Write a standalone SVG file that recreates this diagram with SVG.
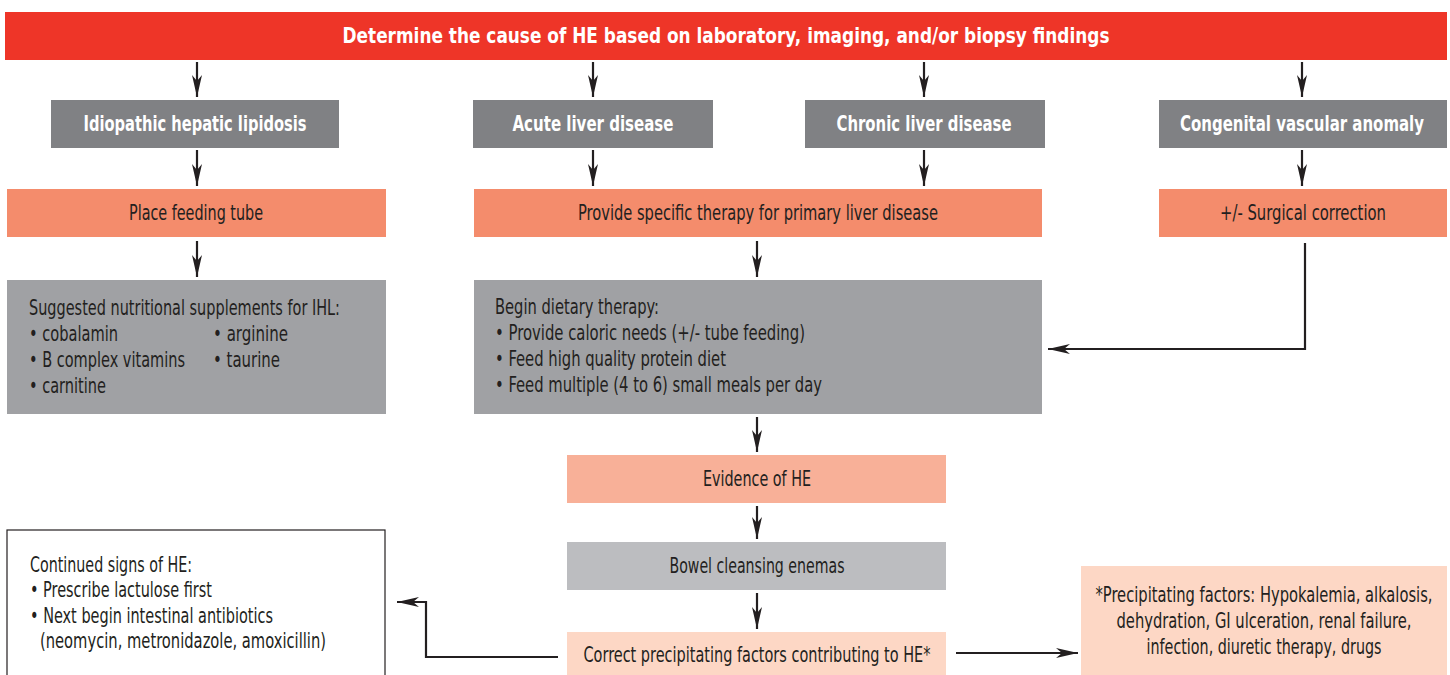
<svg xmlns="http://www.w3.org/2000/svg" width="1450" height="675" viewBox="0 0 1450 675">
<defs>
<style>
text{font-family:"Liberation Sans Narrow","DejaVu Sans Condensed","Liberation Sans",Arial,sans-serif;font-size:22px;fill:#231F20}
.b{font-weight:bold;fill:#fff}
.c{text-anchor:middle}
.red{fill:#EE3528}
.dg{fill:#808184}
.sal{fill:#F48C6C}
.lg{fill:#A0A1A4}
.ev{fill:#F8B098}
.bw{fill:#BCBDC0}
.pk{fill:#FDD7C5}
.wb{fill:#fff;stroke:#231F20;stroke-width:1.2}
.con path{fill:none;stroke:#231F20;stroke-width:2.2;marker-end:url(#ah)}
</style>
<marker id="ah" markerUnits="userSpaceOnUse" markerWidth="24" markerHeight="12" viewBox="-23 -6 24 12" refX="0" refY="0" orient="auto">
<path d="M0,0 L-22,-5 L-16,0 L-22,5 Z" fill="#231F20"/>
</marker>
</defs>
<rect width="1450" height="675" fill="#fff"/>

<g id="n-top"><rect class="red" x="5" y="12" width="1442" height="48"/>
<text class="b c" x="726" y="43" font-size="23" textLength="767" lengthAdjust="spacingAndGlyphs">Determine the cause of HE based on laboratory, imaging, and/or biopsy findings</text></g>

<g id="n-ihl"><rect class="dg" x="51" y="100" width="288" height="48"/>
<text class="b c" x="195" y="131" textLength="223" lengthAdjust="spacingAndGlyphs">Idiopathic hepatic lipidosis</text></g>
<g id="n-acute"><rect class="dg" x="473" y="100" width="240" height="48"/>
<text class="b c" x="593" y="131" textLength="161" lengthAdjust="spacingAndGlyphs">Acute liver disease</text></g>
<g id="n-chronic"><rect class="dg" x="805" y="100" width="240" height="48"/>
<text class="b c" x="924" y="131" textLength="175" lengthAdjust="spacingAndGlyphs">Chronic liver disease</text></g>
<g id="n-cva"><rect class="dg" x="1159" y="100" width="288" height="48"/>
<text class="b c" x="1302" y="131" textLength="244" lengthAdjust="spacingAndGlyphs">Congenital vascular anomaly</text></g>

<g id="n-tube"><rect class="sal" x="7" y="189" width="379" height="48"/>
<text class="c" x="196" y="220" textLength="134" lengthAdjust="spacingAndGlyphs">Place feeding tube</text></g>
<g id="n-specific"><rect class="sal" x="474" y="189" width="568" height="48"/>
<text class="c" x="758" y="220" textLength="360" lengthAdjust="spacingAndGlyphs">Provide specific therapy for primary liver disease</text></g>
<g id="n-surg"><rect class="sal" x="1159" y="189" width="288" height="48"/>
<text class="c" x="1303" y="220" textLength="166" lengthAdjust="spacingAndGlyphs">+/- Surgical correction</text></g>

<g id="n-supp"><rect class="lg" x="7" y="280" width="379" height="134"/>
<text x="29" y="315" textLength="311" lengthAdjust="spacingAndGlyphs">Suggested nutritional supplements for IHL:</text>
<text x="29" y="341" textLength="89" lengthAdjust="spacingAndGlyphs">• cobalamin</text>
<text x="213" y="341" textLength="75" lengthAdjust="spacingAndGlyphs">• arginine</text>
<text x="29" y="367" textLength="156" lengthAdjust="spacingAndGlyphs">• B complex vitamins</text>
<text x="213" y="367" textLength="67" lengthAdjust="spacingAndGlyphs">• taurine</text>
<text x="29" y="393" textLength="77" lengthAdjust="spacingAndGlyphs">• carnitine</text></g>

<g id="n-diet"><rect class="lg" x="474" y="280" width="568" height="134"/>
<text x="495" y="314" textLength="164" lengthAdjust="spacingAndGlyphs">Begin dietary therapy:</text>
<text x="495" y="340" textLength="310" lengthAdjust="spacingAndGlyphs">• Provide caloric needs (+/- tube feeding)</text>
<text x="495" y="366" textLength="231" lengthAdjust="spacingAndGlyphs">• Feed high quality protein diet</text>
<text x="495" y="392" textLength="327" lengthAdjust="spacingAndGlyphs">• Feed multiple (4 to 6) small meals per day</text></g>

<g id="n-evidence"><rect class="ev" x="567" y="455" width="379" height="48"/>
<text class="c" x="757" y="486" textLength="108" lengthAdjust="spacingAndGlyphs">Evidence of HE</text></g>
<g id="n-bowel"><rect class="bw" x="567" y="542" width="379" height="48"/>
<text class="c" x="757" y="573" textLength="175" lengthAdjust="spacingAndGlyphs">Bowel cleansing enemas</text></g>
<g id="n-correct"><rect class="pk" x="567" y="632" width="379" height="50"/>
<text class="c" x="757" y="662" textLength="347" lengthAdjust="spacingAndGlyphs">Correct precipitating factors contributing to HE*</text></g>

<g id="n-continued"><rect class="wb" x="7" y="530" width="378" height="160"/>
<text x="30" y="572" textLength="162" lengthAdjust="spacingAndGlyphs">Continued signs of HE:</text>
<text x="30" y="597" textLength="182" lengthAdjust="spacingAndGlyphs">• Prescribe lactulose first</text>
<text x="30" y="623" textLength="243" lengthAdjust="spacingAndGlyphs">• Next begin intestinal antibiotics</text>
<text x="40" y="648" textLength="286" lengthAdjust="spacingAndGlyphs">(neomycin, metronidazole, amoxicillin)</text></g>

<g id="n-factors"><rect class="pk" x="1081" y="566" width="366" height="115"/>
<text class="c" x="1264" y="602" textLength="337" lengthAdjust="spacingAndGlyphs">*Precipitating factors: Hypokalemia, alkalosis,</text>
<text class="c" x="1264" y="628" textLength="295" lengthAdjust="spacingAndGlyphs">dehydration, GI ulceration, renal failure,</text>
<text class="c" x="1264" y="654" textLength="235" lengthAdjust="spacingAndGlyphs">infection, diuretic therapy, drugs</text></g>

<g id="connectors" class="con">
<path d="M197,62 V97"/>
<path d="M593,62 V97"/>
<path d="M924,62 V97"/>
<path d="M1302,62 V97"/>
<path d="M197,150 V186"/>
<path d="M593,150 V186"/>
<path d="M924,150 V186"/>
<path d="M1302,150 V186"/>
<path d="M197,241 V277"/>
<path d="M757,241 V277"/>
<path d="M1305,243 V349 H1048"/>
<path d="M757,417 V452"/>
<path d="M757,506 V539"/>
<path d="M757,593 V629"/>
<path d="M558,657 H426 V602 H397"/>
<path d="M956,653 H1078"/>
</g>
</svg>
